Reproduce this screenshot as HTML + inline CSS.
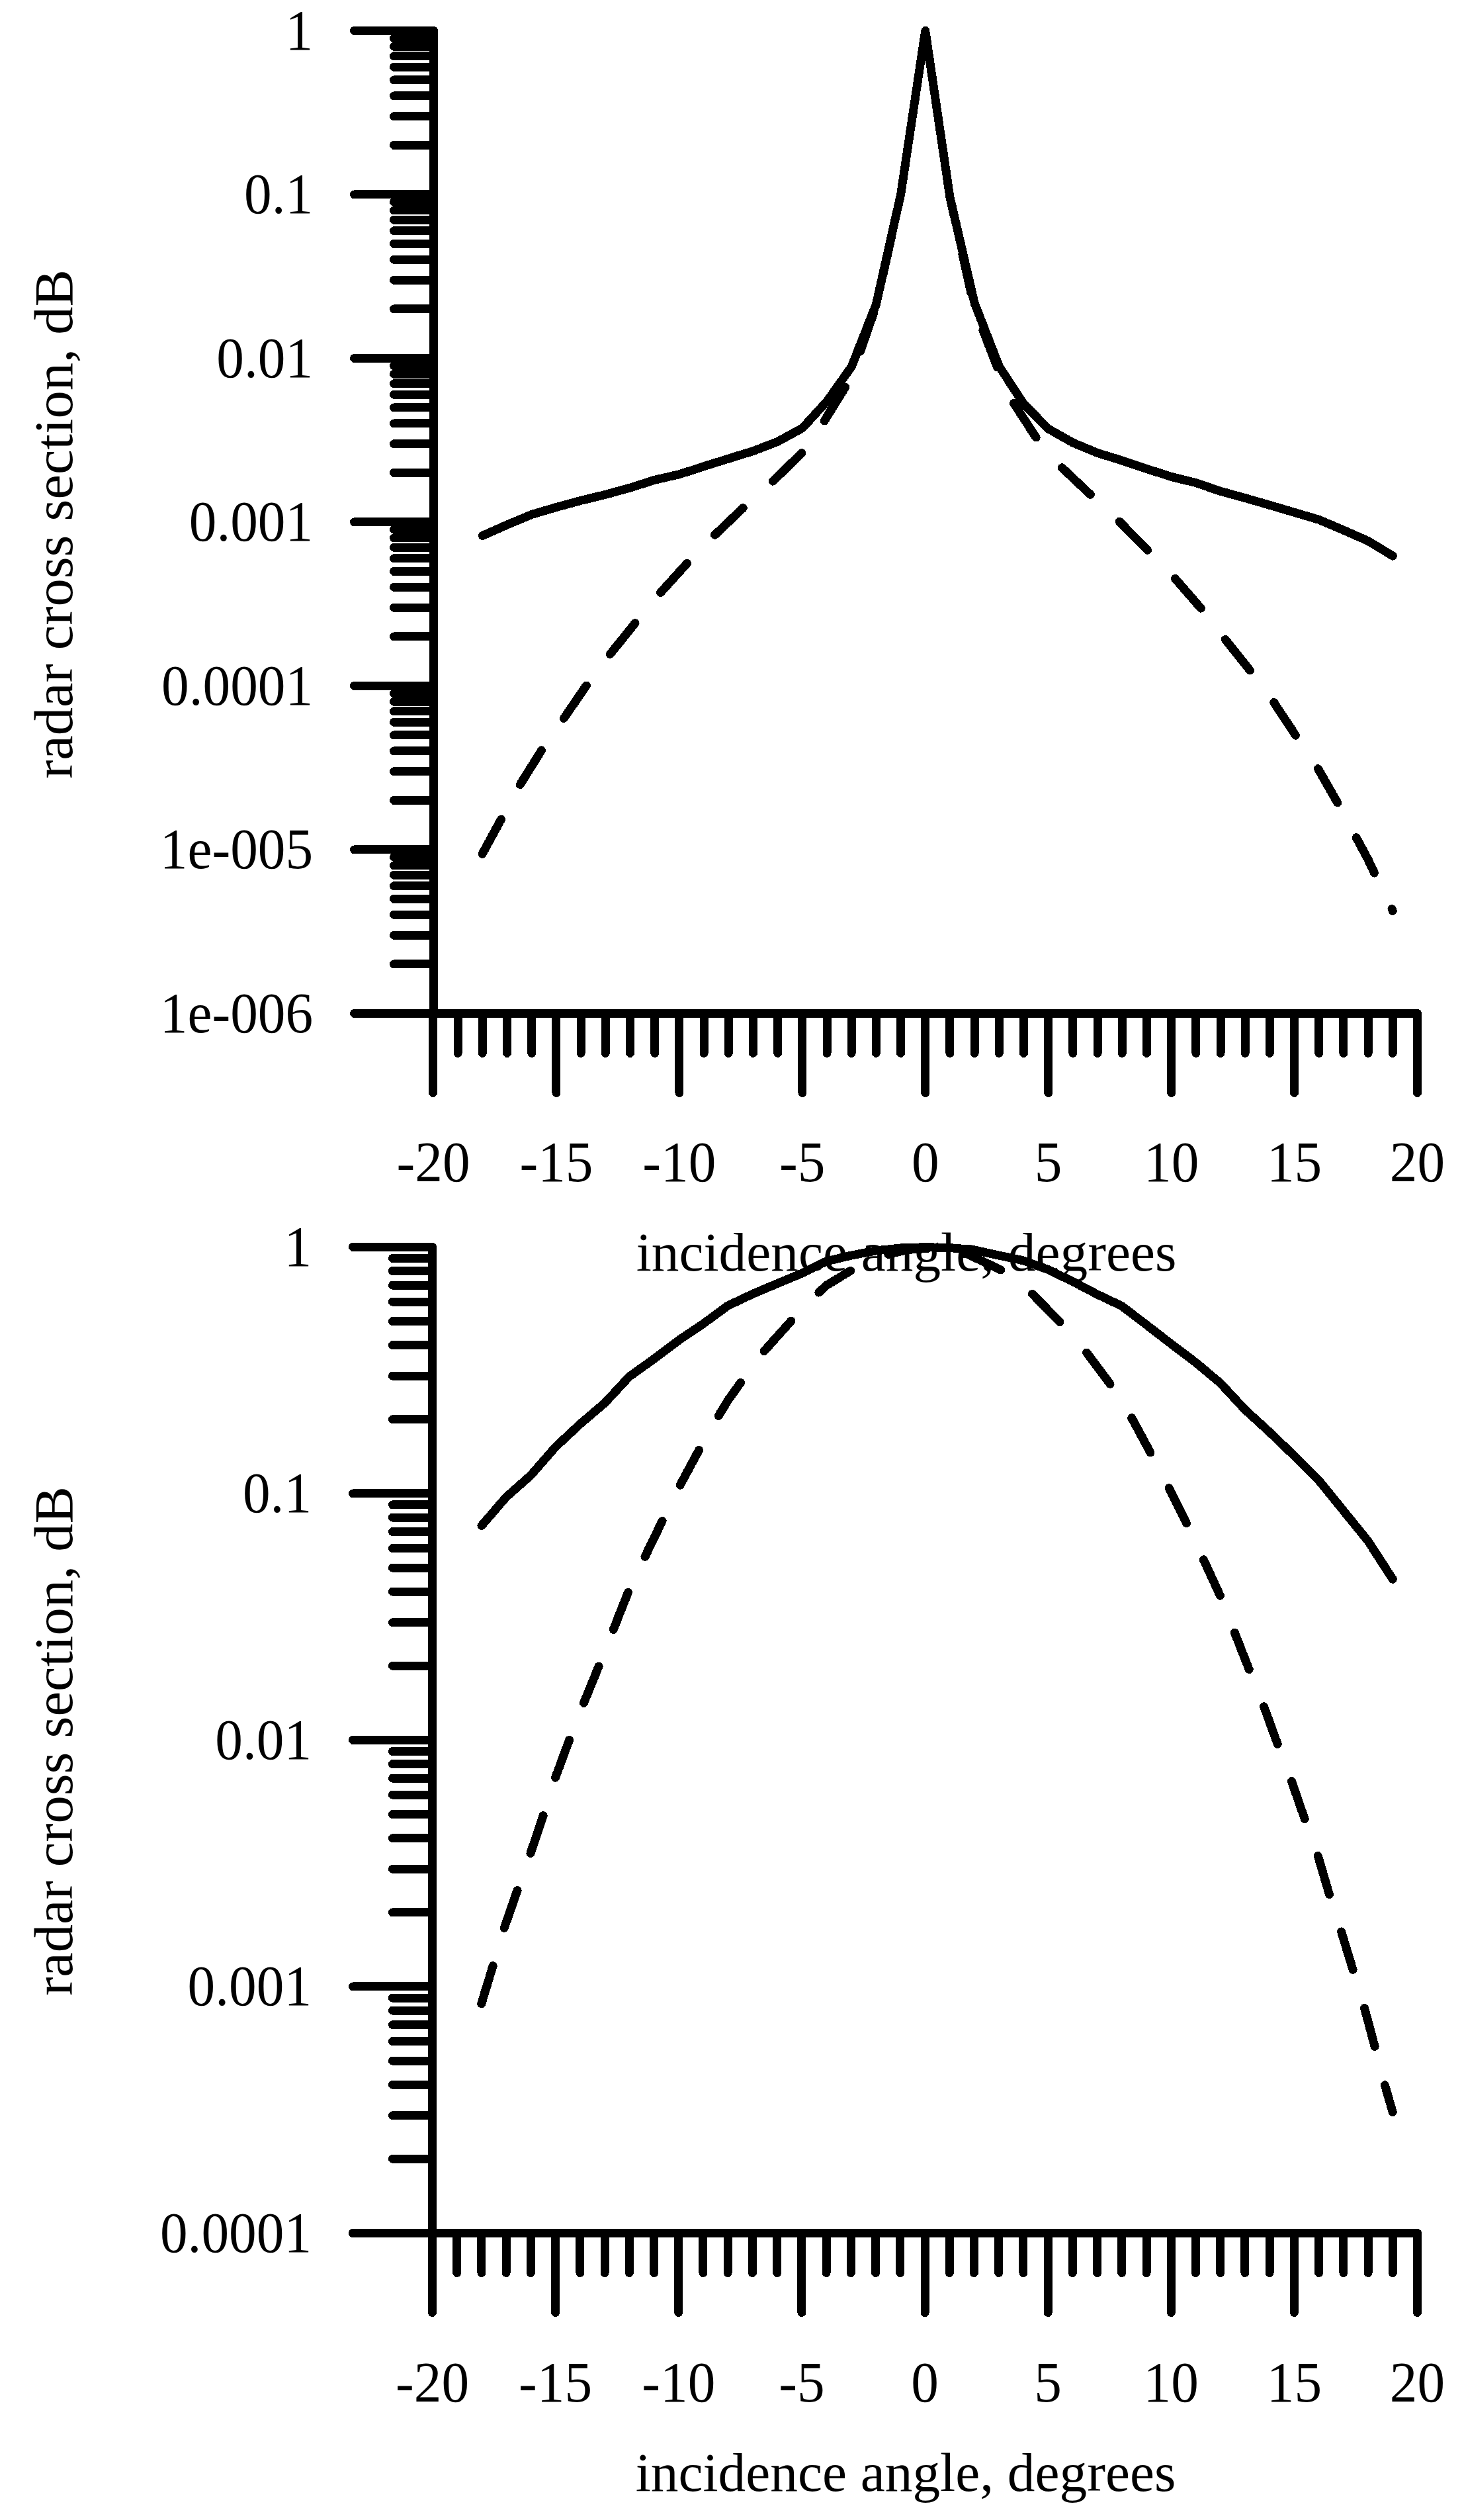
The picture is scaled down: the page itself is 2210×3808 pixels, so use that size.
<!DOCTYPE html>
<html lang="en">
<head>
<meta charset="utf-8">
<title>Radar cross section vs incidence angle</title>
<style>
html,body{margin:0;padding:0;background:#fff;}
body{width:2210px;height:3808px;overflow:hidden;}
svg{display:block;}
text{font-family:"Liberation Serif",serif;font-size:83.33px;fill:#000;}
.ax,.ln{shape-rendering:crispEdges;fill:none;stroke:#000;stroke-width:13;stroke-linecap:round;stroke-linejoin:round;}
.yl{text-anchor:end;}
.xl,.xt,.yt{text-anchor:middle;}
</style>
</head>
<body>
<svg width="2210" height="3808" viewBox="0 0 2210 3808">
<rect width="2210" height="3808" fill="#fff"/>
<g id="chart-top">
<path class="ax" d="M655.5 46.4V1531.4M655.5 1531.4H2142.5M655.5 46.4H535.5M655.5 219.4H595.5M655.5 175.81H595.5M655.5 144.89H595.5M655.5 120.9H595.5M655.5 101.31H595.5M655.5 84.74H595.5M655.5 70.39H595.5M655.5 57.72H595.5M655.5 293.9H535.5M655.5 466.9H595.5M655.5 423.31H595.5M655.5 392.39H595.5M655.5 368.4H595.5M655.5 348.81H595.5M655.5 332.24H595.5M655.5 317.89H595.5M655.5 305.22H595.5M655.5 541.4H535.5M655.5 714.4H595.5M655.5 670.81H595.5M655.5 639.89H595.5M655.5 615.9H595.5M655.5 596.31H595.5M655.5 579.74H595.5M655.5 565.39H595.5M655.5 552.72H595.5M655.5 788.9H535.5M655.5 961.9H595.5M655.5 918.31H595.5M655.5 887.39H595.5M655.5 863.4H595.5M655.5 843.81H595.5M655.5 827.24H595.5M655.5 812.89H595.5M655.5 800.22H595.5M655.5 1036.4H535.5M655.5 1209.4H595.5M655.5 1165.81H595.5M655.5 1134.89H595.5M655.5 1110.9H595.5M655.5 1091.31H595.5M655.5 1074.74H595.5M655.5 1060.39H595.5M655.5 1047.72H595.5M655.5 1283.9H535.5M655.5 1456.9H595.5M655.5 1413.31H595.5M655.5 1382.39H595.5M655.5 1358.4H595.5M655.5 1338.81H595.5M655.5 1322.24H595.5M655.5 1307.89H595.5M655.5 1295.22H595.5M655.5 1531.4H535.5M654.5 1531.4V1651.4M692.19 1531.4V1591.4M729.38 1531.4V1591.4M766.56 1531.4V1591.4M803.75 1531.4V1591.4M840.94 1531.4V1651.4M878.12 1531.4V1591.4M915.31 1531.4V1591.4M952.5 1531.4V1591.4M989.69 1531.4V1591.4M1026.88 1531.4V1651.4M1064.06 1531.4V1591.4M1101.25 1531.4V1591.4M1138.44 1531.4V1591.4M1175.62 1531.4V1591.4M1212.81 1531.4V1651.4M1250 1531.4V1591.4M1287.19 1531.4V1591.4M1324.38 1531.4V1591.4M1361.56 1531.4V1591.4M1398.75 1531.4V1651.4M1435.94 1531.4V1591.4M1473.12 1531.4V1591.4M1510.31 1531.4V1591.4M1547.5 1531.4V1591.4M1584.69 1531.4V1651.4M1621.88 1531.4V1591.4M1659.06 1531.4V1591.4M1696.25 1531.4V1591.4M1733.44 1531.4V1591.4M1770.62 1531.4V1651.4M1807.81 1531.4V1591.4M1845 1531.4V1591.4M1882.19 1531.4V1591.4M1919.38 1531.4V1591.4M1956.56 1531.4V1651.4M1993.75 1531.4V1591.4M2030.94 1531.4V1591.4M2068.12 1531.4V1591.4M2105.31 1531.4V1591.4M2142.5 1531.4V1651.4"/>
<text class="yl" transform="translate(473.2 74.9) scale(1 1.035)">1</text>
<text class="yl" transform="translate(473.2 322.4) scale(1 1.035)">0.1</text>
<text class="yl" transform="translate(473.2 569.9) scale(1 1.035)">0.01</text>
<text class="yl" transform="translate(473.2 817.4) scale(1 1.035)">0.001</text>
<text class="yl" transform="translate(473.2 1064.9) scale(1 1.035)">0.0001</text>
<text class="yl" transform="translate(473.2 1312.4) scale(1 1.035)">1e-005</text>
<text class="yl" transform="translate(473.2 1559.9) scale(1 1.035)">1e-006</text>
<text class="xl" transform="translate(655 1785) scale(1 1.035)">-20</text>
<text class="xl" transform="translate(840.94 1785) scale(1 1.035)">-15</text>
<text class="xl" transform="translate(1026.88 1785) scale(1 1.035)">-10</text>
<text class="xl" transform="translate(1212.81 1785) scale(1 1.035)">-5</text>
<text class="xl" transform="translate(1398.75 1785) scale(1 1.035)">0</text>
<text class="xl" transform="translate(1584.69 1785) scale(1 1.035)">5</text>
<text class="xl" transform="translate(1770.62 1785) scale(1 1.035)">10</text>
<text class="xl" transform="translate(1956.56 1785) scale(1 1.035)">15</text>
<text class="xl" transform="translate(2142.5 1785) scale(1 1.035)">20</text>
<text class="xt" x="1370" y="1920.3">incidence angle, degrees</text>
<text class="yt" transform="translate(109 792) rotate(-90) scale(1.0142 1)">radar cross section, dB</text>
<polyline class="ln" points="729.38,809.5 766.56,793 803.75,777.5 840.94,766.5 878.12,756.4 915.31,747.3 952.5,737.1 989.69,725.2 1026.88,716.8 1064.06,704.7 1101.25,693.1 1138.44,681.6 1175.62,667.3 1212.81,647 1250,606.5 1287.19,554 1324.38,460 1361.56,294 1398.75,46.4 1435.94,298 1473.12,458 1510.31,553.5 1547.5,610.5 1584.69,648 1621.88,669 1659.06,684.5 1696.25,696 1733.44,708.5 1770.62,720.4 1807.81,729.6 1845,742.3 1882.19,752.6 1919.38,763.3 1956.56,774.3 1993.75,785.3 2030.94,801.1 2068.12,817.5 2105.31,840.1"/>
<path class="ln" d="M729.1 1290.3L757.5 1238.2M786.2 1185.6L818.6 1133.9M852.3 1085.5L886.3 1036M922.4 988.4L960.1 941.6M998.5 895.5L1038.5 851.4M1080.6 808.3L1123.3 767.6M1168.4 727.2L1211.9 684.6M1246.3 636L1276.8 585M1532.4 609.3L1566.1 661M1605.3 706.7L1648.4 747.4M1692.2 788.2L1734.5 831.3M1776.4 874.4L1815.4 919.2M1852.3 966.4L1889.6 1013.1M1925.7 1061.5L1958.5 1111.3M1992.4 1161.6L2021.7 1212.9M2050.2 1265.7L2068.1 1299L2077.5 1319M2104 1373.6L2105.2 1376.4"/>
<path class="ln" pathLength="1200" stroke-dasharray="60 60" d="M1246.3 636L1250 629.8L1287.2 570L1324.4 462L1361.6 294L1398.75 46.4L1435.9 298L1473.1 466L1510.3 562L1532.4 609.3"/>
</g>
<g id="chart-bottom">
<path class="ax" d="M653.5 1884.4V3374.5M653.5 3374.5H2142.5M653.5 1884.4H533.5M653.5 2144.78H593.5M653.5 2079.19H593.5M653.5 2032.64H593.5M653.5 1996.54H593.5M653.5 1967.04H593.5M653.5 1942.1H593.5M653.5 1920.5H593.5M653.5 1901.45H593.5M653.5 2256.93H533.5M653.5 2517.31H593.5M653.5 2451.71H593.5M653.5 2405.17H593.5M653.5 2369.07H593.5M653.5 2339.57H593.5M653.5 2314.63H593.5M653.5 2293.03H593.5M653.5 2273.97H593.5M653.5 2629.45H533.5M653.5 2889.83H593.5M653.5 2824.24H593.5M653.5 2777.69H593.5M653.5 2741.59H593.5M653.5 2712.09H593.5M653.5 2687.15H593.5M653.5 2665.55H593.5M653.5 2646.5H593.5M653.5 3001.97H533.5M653.5 3262.36H593.5M653.5 3196.76H593.5M653.5 3150.22H593.5M653.5 3114.12H593.5M653.5 3084.62H593.5M653.5 3059.68H593.5M653.5 3038.08H593.5M653.5 3019.02H593.5M653.5 3374.5H533.5M653.5 3374.5V3494.5M690.73 3374.5V3434.5M727.95 3374.5V3434.5M765.17 3374.5V3434.5M802.4 3374.5V3434.5M839.62 3374.5V3494.5M876.85 3374.5V3434.5M914.08 3374.5V3434.5M951.3 3374.5V3434.5M988.53 3374.5V3434.5M1025.75 3374.5V3494.5M1062.97 3374.5V3434.5M1100.2 3374.5V3434.5M1137.42 3374.5V3434.5M1174.65 3374.5V3434.5M1211.88 3374.5V3494.5M1249.1 3374.5V3434.5M1286.33 3374.5V3434.5M1323.55 3374.5V3434.5M1360.78 3374.5V3434.5M1398 3374.5V3494.5M1435.22 3374.5V3434.5M1472.45 3374.5V3434.5M1509.68 3374.5V3434.5M1546.9 3374.5V3434.5M1584.12 3374.5V3494.5M1621.35 3374.5V3434.5M1658.58 3374.5V3434.5M1695.8 3374.5V3434.5M1733.03 3374.5V3434.5M1770.25 3374.5V3494.5M1807.48 3374.5V3434.5M1844.7 3374.5V3434.5M1881.92 3374.5V3434.5M1919.15 3374.5V3434.5M1956.38 3374.5V3494.5M1993.6 3374.5V3434.5M2030.83 3374.5V3434.5M2068.05 3374.5V3434.5M2105.28 3374.5V3434.5M2142.5 3374.5V3494.5"/>
<text class="yl" transform="translate(471.1 1912.9) scale(1 1.035)">1</text>
<text class="yl" transform="translate(471.1 2285.43) scale(1 1.035)">0.1</text>
<text class="yl" transform="translate(471.1 2657.95) scale(1 1.035)">0.01</text>
<text class="yl" transform="translate(471.1 3030.47) scale(1 1.035)">0.001</text>
<text class="yl" transform="translate(471.1 3403) scale(1 1.035)">0.0001</text>
<text class="xl" transform="translate(653.5 3629.2) scale(1 1.035)">-20</text>
<text class="xl" transform="translate(839.62 3629.2) scale(1 1.035)">-15</text>
<text class="xl" transform="translate(1025.75 3629.2) scale(1 1.035)">-10</text>
<text class="xl" transform="translate(1211.88 3629.2) scale(1 1.035)">-5</text>
<text class="xl" transform="translate(1398 3629.2) scale(1 1.035)">0</text>
<text class="xl" transform="translate(1584.12 3629.2) scale(1 1.035)">5</text>
<text class="xl" transform="translate(1770.25 3629.2) scale(1 1.035)">10</text>
<text class="xl" transform="translate(1956.38 3629.2) scale(1 1.035)">15</text>
<text class="xl" transform="translate(2142.5 3629.2) scale(1 1.035)">20</text>
<text class="xt" x="1369" y="3764">incidence angle, degrees</text>
<text class="yt" transform="translate(109 2631) rotate(-90) scale(1.0142 1)">radar cross section, dB</text>
<polyline class="ln" points="727.95,2305.4 765.17,2262.3 802.4,2229.3 839.62,2186.7 876.85,2151.9 914.08,2120.2 951.3,2080.2 988.53,2053.6 1025.75,2025.5 1062.97,2000.4 1100.2,1973.1 1137.42,1955.5 1174.65,1939.7 1211.88,1924.3 1249.1,1906 1286.33,1897.2 1323.55,1890 1360.78,1886 1398,1884.7 1435.22,1885.5 1472.45,1888.8 1509.68,1897 1546.9,1904.8 1584.12,1918.5 1621.35,1936.4 1658.58,1955.9 1695.8,1973.6 1733.03,2002 1770.25,2030.7 1807.48,2058.9 1844.7,2090 1881.92,2130.1 1919.15,2164.1 1956.38,2199.9 1993.6,2237 2030.83,2282.9 2068.05,2328.8 2105.28,2386.3"/>
<path class="ln" d="M727.7 3027.9L745.1 2970.8M762.2 2913.3L782.1 2856.5M802 2800.5L821.1 2743.6M839.6 2686.2L860.5 2629.4M882.5 2573.4L905.1 2518M927.2 2462.5L949.4 2406.3M975 2352.3L1001.1 2298.4M1028.2 2244.1L1056.5 2191.4M1086.3 2139.4L1100.2 2116.5L1119.5 2089.4M1155 2041.7L1196 1996.1M1237.8 1953.1L1249.1 1942.5L1285.7 1920.3M1342.7 1895.3L1372 1888.5L1402.3 1886.4M1458 1893L1512.8 1918.9M1560.6 1955.3L1602 1997.6M1642.6 2044.1L1678.1 2091.3M1710.7 2142.6L1739 2195M1767.2 2248.7L1793.4 2301.7M1819.4 2356.9L1844.4 2411.2M1866.3 2467.1L1888.1 2522.5M1910.5 2578.7L1931.2 2635.4M1952.5 2691.6L1972.2 2748.6M1992.3 2804.5L2009.4 2862.6M2027.6 2919L2045.1 2976.5M2062.5 3034.6L2068.3 3055.5L2078.1 3092.4M2093.5 3150.9L2105.2 3191.6"/>
</g>
</svg>
</body>
</html>
